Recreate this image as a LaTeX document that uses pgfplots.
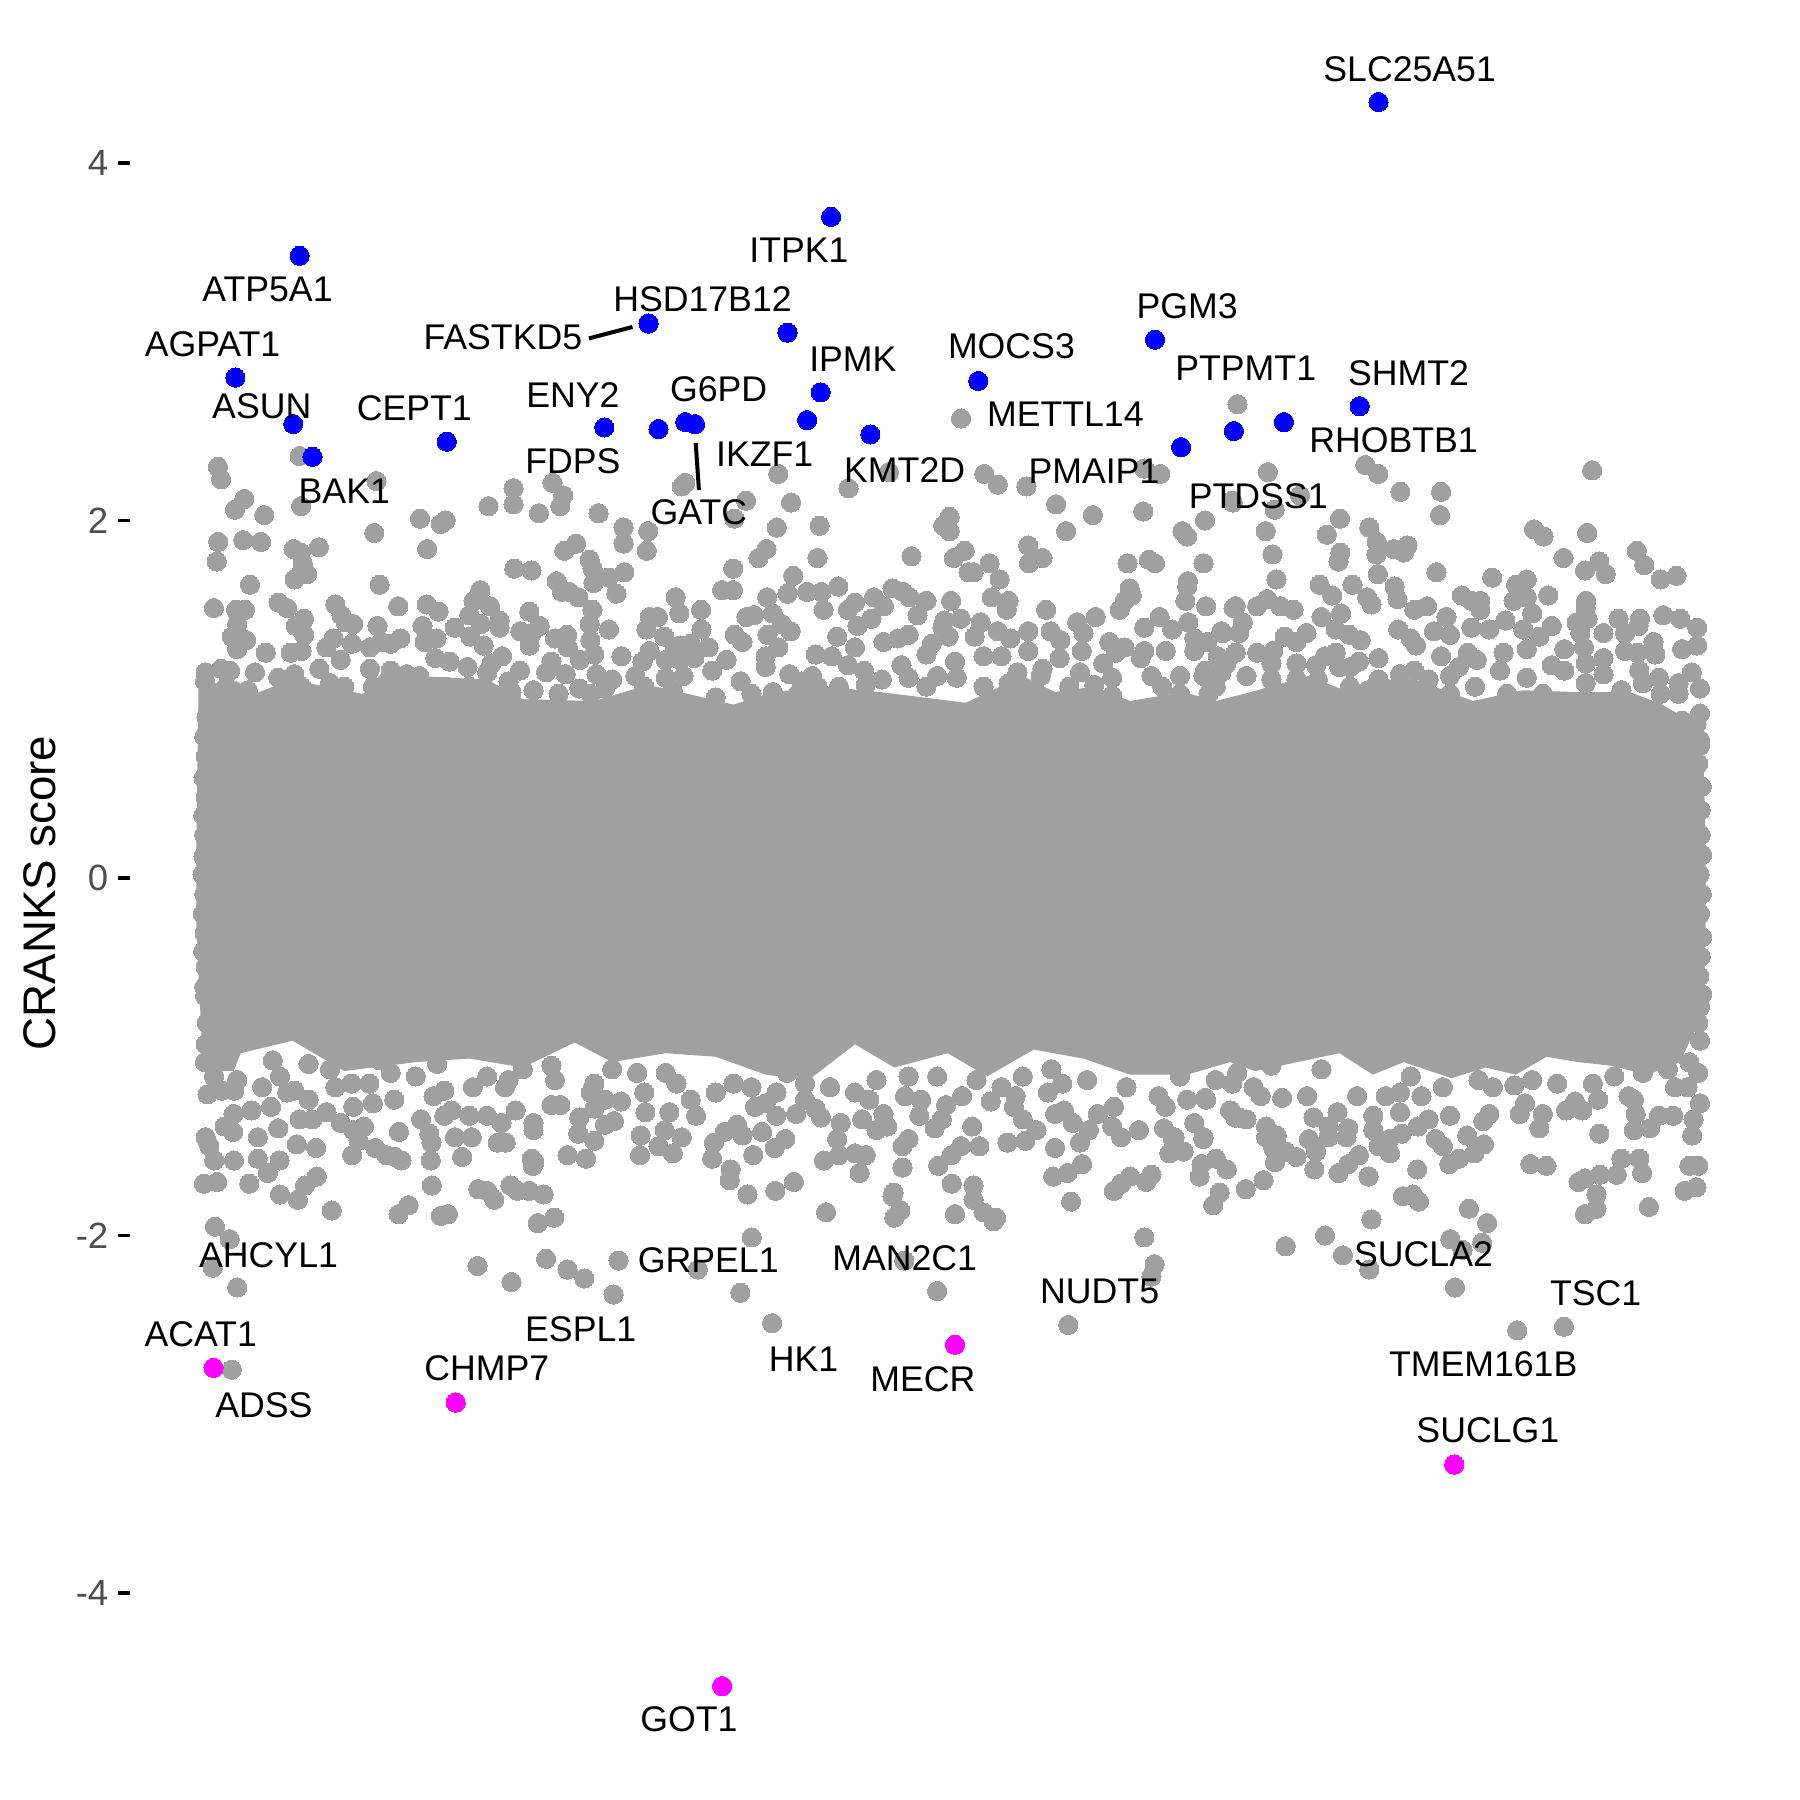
\documentclass[border=0pt]{standalone}
\usepackage{pgfplots}
\pgfplotsset{compat=1.18}
\usepackage{fontspec}
\setmainfont{Liberation Sans}
\definecolor{dotgray}{HTML}{A0A0A0}
\definecolor{ticktext}{HTML}{4D4D4D}
\definecolor{upblue}{HTML}{0000FF}
\definecolor{downpink}{HTML}{FF00FF}
\tikzset{lab/.style={font=\fontsize{10.15}{12}\selectfont,text=black,inner sep=0pt,anchor=center}}
% labels go on after the plots, so they sit over the dots
\newcommand{\genelabels}{%
\draw[black,line width=0.04cm] (axis cs:1285,3.018) -- (axis cs:1407,3.082);
\draw[black,line width=0.04cm] (axis cs:1584,2.433) -- (axis cs:1593,2.170);
\node[lab] at (axis cs:3583,4.526) {SLC25A51};
\node[lab] at (axis cs:1873,3.512) {ITPK1};
\node[lab] at (axis cs:385,3.294) {ATP5A1};
\node[lab] at (axis cs:1603,3.236) {HSD17B12};
\node[lab] at (axis cs:1044,3.024) {FASTKD5};
\node[lab] at (axis cs:231,2.986) {AGPAT1};
\node[lab] at (axis cs:2960,3.197) {PGM3};
\node[lab] at (axis cs:2468,2.973) {MOCS3};
\node[lab] at (axis cs:2024,2.902) {IPMK};
\node[lab] at (axis cs:3124,2.851) {PTPMT1};
\node[lab] at (axis cs:3580,2.825) {SHMT2};
\node[lab] at (axis cs:369,2.639) {ASUN};
\node[lab] at (axis cs:796,2.626) {CEPT1};
\node[lab] at (axis cs:1240,2.703) {ENY2};
\node[lab] at (axis cs:1648,2.735) {G6PD};
\node[lab] at (axis cs:2619,2.594) {METTL14};
\node[lab] at (axis cs:3538,2.446) {RHOBTB1};
\node[lab] at (axis cs:1777,2.369) {IKZF1};
\node[lab] at (axis cs:2169,2.279) {KMT2D};
\node[lab] at (axis cs:2699,2.273) {PMAIP1};
\node[lab] at (axis cs:1240,2.331) {FDPS};
\node[lab] at (axis cs:600,2.164) {BAK1};
\node[lab] at (axis cs:3159,2.138) {PTDSS1};
\node[lab] at (axis cs:1593,2.048) {GATC};
\node[lab] at (axis cs:388,-2.112) {AHCYL1};
\node[lab] at (axis cs:1619,-2.138) {GRPEL1};
\node[lab] at (axis cs:2169,-2.125) {MAN2C1};
\node[lab] at (axis cs:3622,-2.106) {SUCLA2};
\node[lab] at (axis cs:2715,-2.311) {NUDT5};
\node[lab] at (axis cs:4104,-2.324) {TSC1};
\node[lab] at (axis cs:1262,-2.523) {ESPL1};
\node[lab] at (axis cs:198,-2.549) {ACAT1};
\node[lab] at (axis cs:1886,-2.690) {HK1};
\node[lab] at (axis cs:3789,-2.722) {TMEM161B};
\node[lab] at (axis cs:999,-2.742) {CHMP7};
\node[lab] at (axis cs:2220,-2.806) {MECR};
\node[lab] at (axis cs:375,-2.947) {ADSS};
\node[lab] at (axis cs:3802,-3.088) {SUCLG1};
\node[lab] at (axis cs:1565,-4.706) {GOT1};
}
\begin{document}
\begin{tikzpicture}
\path[use as bounding box] (-1.3cm,0cm) rectangle (16.7cm,18cm);
\begin{axis}[
    at={(0cm,0cm)}, anchor=south west,
    scale only axis, width=16.7cm, height=18cm,
    xmin=0, xmax=4676, ymin=-5.157, ymax=4.911,
    axis x line=none, axis y line=left,
    axis line style={draw=none,-},
    xtick=\empty,
    ytick={-4,-2,0,2,4},
    yticklabels={-4,-2,0,2,4},
    tick align=outside,
    major tick length=0.12cm,
    ytick style={black,line width=0.035cm},
    yticklabel style={font=\fontsize{10.4}{12}\selectfont,text=ticktext,inner sep=0pt,xshift=-0.09cm},
    every axis y label/.style={at={(axis description cs:-0.0539,0.5039)},rotate=90,anchor=center},
    ylabel={\fontsize{13}{15}\selectfont CRANKS score},
    clip=false,
    gene/.style={only marks,mark=*,mark size=2.73pt,mark options={draw=#1,fill=#1,line width=0pt}},
    gene/.default=dotgray,
    after end axis/.code={\genelabels},
]
% dense core of the cloud, outline
\addplot[fill=dotgray,draw=none] coordinates {
 (192,1.08) (300,1.10) (350,1.03) (450,1.11) (650,1.03) (800,1.13) (1000,1.11) (1100,1.00) (1300,0.99) (1450,1.08)
 (1540,1.04) (1690,0.97) (1800,1.04) (1950,1.07) (2100,1.04) (2340,0.98) (2500,1.13) (2590,1.04) (2700,1.07) (2800,0.99)
 (2950,1.04) (3040,0.99) (3120,1.03) (3300,1.13) (3400,1.05) (3500,1.11) (3600,1.11) (3760,0.99) (3900,1.05) (4050,1.04)
 (4200,1.04) (4290,0.97) (4350,0.90) (4405,0.70)
 (4412,0.2) (4412,-0.3) (4405,-0.75) (4340,-1.03) (4250,-1.10) (4146,-1.05) (4056,-1.03) (3966,-1.00) (3880,-1.10) (3796,-1.06)
 (3700,-1.12) (3566,-1.03) (3480,-1.10) (3386,-0.98) (3150,-1.08) (3080,-1.03) (2960,-1.10) (2800,-1.10) (2670,-1.01) (2530,-0.96)
 (2400,-1.11) (2290,-0.98) (2140,-1.06) (2030,-0.93) (1900,-1.13) (1780,-1.10) (1640,-1.00) (1500,-0.98) (1350,-1.03) (1245,-0.92)
 (1100,-1.06) (950,-1.01) (800,-1.03) (600,-1.08) (455,-0.91) (310,-0.98) (290,-1.08) (205,-1.08) (186,-0.3) (186,0.2)
} -- cycle;
% upper fringe, left part
\addplot[gene] coordinates {
 (475,2.36) (246,2.30) (255,2.23) (320,2.12) (294,2.06) (376,2.03) (479,2.08) (690,2.22)
 (247,1.88) (317,1.89) (367,1.88) (243,1.77) (458,1.84) (478,1.82) (529,1.85) (484,1.76)
 (480,1.71) (496,1.70) (461,1.67) (336,1.64) (684,1.93) (812,2.01) (870,1.98) (884,2.00)
 (832,1.84) (699,1.64) (1004,2.08) (1074,2.18) (1074,2.09) (1145,2.04) (1183,2.21) (1213,2.14)
 (1205,2.08) (1312,2.04) (1382,1.96) (1382,1.87) (1451,1.94) (1447,1.83) (1216,1.83) (1249,1.87)
 (1287,1.78) (1295,1.73) (1298,1.65) (1340,1.68) (1384,1.71) (1362,1.59) (1076,1.73) (1124,1.72)
 (1195,1.66) (1210,1.60) (1230,1.60) (1255,1.57) (1555,2.21) (1545,2.19) (1528,1.57) (1538,1.48)
 (1455,1.46) (1478,1.46) (1446,1.39) (1496,1.35) (1526,1.29) (981,1.61) (962,1.55) (1008,1.52)
 (950,1.47) (982,1.42) (1035,1.44) (1035,1.40) (909,1.40) (953,1.35) (990,1.30) (1042,1.24)
 (831,1.53) (864,1.49) (819,1.41) (858,1.34) (825,1.32) (751,1.52) (693,1.41) (757,1.34)
 (730,1.31) (672,1.29) (703,1.32) (575,1.53) (592,1.47) (625,1.42) (604,1.43) (416,1.54)
 (440,1.51) (487,1.45) (464,1.41) (488,1.36) (235,1.51) (297,1.50) (322,1.50) (300,1.42)
 (285,1.35) (325,1.33) (300,1.28) (380,1.26) (570,1.34) (622,1.31) (550,1.29) (450,1.26)
 (480,1.27) (1118,1.49) (1147,1.41) (1093,1.38) (1125,1.37) (1119,1.30) (1190,1.34) (1224,1.36)
 (1226,1.29) (1180,1.21) (1295,1.50) (1287,1.42) (1289,1.33) (1341,1.39) (1300,1.25) (1260,1.22)
 (1376,1.24) (1092,1.16) (1455,1.27) (1500,1.22) (1435,1.21) (855,1.23) (895,1.21) (945,1.18)
 (1012,1.20) (1220,1.14) (1306,1.14) (1350,1.11) (1415,1.13) (1165,1.15) (1258,1.06) (1068,1.04)
 (1540,1.30) (1540,1.22) (212,1.15) (255,1.17) (350,1.15) (280,1.16) (415,1.12) (460,1.14)
 (530,1.17) (590,1.22) (672,1.17) (730,1.16) (775,1.14) (810,1.13) (1000,1.15) (1440,1.07)
 (1500,1.12) (210,1.10) (270,1.07) (330,1.05) (440,1.07) (480,1.07)
 (560,1.09) (600,1.07) (680,1.07) (750,1.07) (880,1.07) (950,1.07)
 (1130,1.05) (1200,1.03) (1290,1.03) (720,1.10) (1060,1.10) (1330,1.06) (1520,1.05)
};
% upper fringe, middle part
\addplot[gene] coordinates {
 (2327,2.57) (1815,2.26) (2125,2.27) (2012,2.18) (2392,2.26) (2430,2.20) (2510,2.19) (2840,2.29)
 (2885,2.26) (2593,2.09) (2696,2.03) (2837,2.05) (3010,2.00) (3088,2.10) (1725,2.11) (1851,2.10)
 (1692,2.01) (1811,1.96) (1931,1.97) (2295,2.02) (2277,1.97) (2295,1.94) (2515,1.86) (2621,1.94)
 (2947,1.94) (2960,1.91) (1782,1.84) (1760,1.79) (1689,1.73) (1925,1.79) (2188,1.80) (2337,1.83)
 (2307,1.79) (2407,1.76) (2348,1.71) (2362,1.71) (2435,1.67) (2555,1.79) (2517,1.76) (2793,1.76)
 (2853,1.78) (2870,1.76) (3006,1.76) (1857,1.69) (1658,1.61) (1688,1.61) (1841,1.59) (1784,1.57)
 (1896,1.60) (1936,1.60) (1983,1.63) (2135,1.62) (2165,1.60) (2182,1.57) (2230,1.55) (2299,1.55)
 (2413,1.57) (2460,1.55) (1942,1.50) (2083,1.57) (2030,1.54) (2010,1.50) (2111,1.52) (1599,1.50)
 (1800,1.48) (1726,1.46) (1747,1.47) (2076,1.45) (2205,1.47) (2280,1.44) (2326,1.45) (2455,1.50)
 (2382,1.43) (2565,1.50) (2799,1.62) (2805,1.58) (2785,1.55) (2771,1.50) (2962,1.66) (2960,1.63)
 (2955,1.55) (3013,1.52) (3090,1.51) (2652,1.43) (2704,1.46) (2883,1.46) (2963,1.43) (2578,1.38)
 (2515,1.38) (1600,1.39) (1693,1.36) (2037,1.41) (1850,1.38) (1785,1.36) (1825,1.42) (2430,1.38)
 (2292,1.35) (1980,1.35) (2150,1.34) (2180,1.36) (2275,1.40) (2840,1.40) (2918,1.39) (3060,1.37)
 (2980,1.34) (2742,1.32) (2605,1.33) (2465,1.34) (2365,1.35) (2670,1.37) (1570,1.31) (1620,1.29)
 (1715,1.32) (1815,1.29) (2030,1.29) (2110,1.32) (2245,1.31) (2785,1.29) (2665,1.27) (2900,1.27)
 (2840,1.27) (2980,1.27) (1920,1.25) (1965,1.24) (2230,1.25) (2515,1.27) (2440,1.24) (1580,1.23)
 (1670,1.22) (1780,1.24) (2603,1.23) (2725,1.20) (2760,1.26) (2830,1.23) (1910,1.13) (2010,1.19)
 (2055,1.16) (2160,1.19) (2310,1.21) (2390,1.24) (1846,1.14) (2555,1.17) (2660,1.15) (3010,1.16)
 (2940,1.13) (3070,1.20) (2750,1.12) (1630,1.16) (1550,1.13) (1780,1.18) (2105,1.11) (2180,1.12)
 (2315,1.12) (2390,1.07) (2460,1.09) (2550,1.13) (2860,1.13) (1870,1.03) (1925,1.07) (1985,1.07)
 (2060,1.08) (2230,1.07) (2630,1.07) (2750,1.02) (3020,1.03) (2940,1.03)
 (2540,1.03) (1640,1.01) (1740,1.03) (1800,1.04) (1710,1.10)
 (1880,1.10) (2260,1.13) (2485,1.15) (2700,1.08) (2890,1.07) (3040,1.07)
};
% upper fringe, right part
\addplot[gene] coordinates {
 (3101,2.65) (3186,2.27) (3459,2.31) (3495,2.26) (3557,2.16) (3671,2.16) (4094,2.28) (3086,2.11)
 (3205,2.06) (3276,2.14) (3668,2.03) (3388,2.01) (3180,1.94) (3351,1.92) (3470,1.96) (3491,1.88)
 (3577,1.86) (3539,1.84) (3567,1.82) (3490,1.81) (3389,1.82) (3384,1.77) (3199,1.81) (3931,1.95)
 (3958,1.91) (4080,1.93) (4014,1.79) (4219,1.83) (4240,1.75) (4114,1.77) (4074,1.72) (4132,1.70)
 (4286,1.67) (4330,1.69) (3658,1.71) (3814,1.68) (3494,1.70) (3210,1.67) (3423,1.64) (3331,1.64)
 (3541,1.63) (3911,1.67) (3881,1.64) (3366,1.58) (3464,1.57) (3476,1.53) (3549,1.56) (3729,1.58)
 (3756,1.55) (3781,1.55) (3971,1.58) (4077,1.55) (3874,1.55) (3911,1.57) (3096,1.52) (3156,1.52)
 (3184,1.56) (3221,1.52) (3258,1.50) (3391,1.48) (3336,1.46) (3596,1.50) (3632,1.52) (3781,1.50)
 (3686,1.46) (4293,1.47) (4341,1.45) (4388,1.40) (4076,1.51) (4168,1.45) (4228,1.45) (4081,1.45)
 (4051,1.43) (3981,1.41) (3926,1.48) (3851,1.44) (3551,1.39) (3376,1.39) (3414,1.36) (3446,1.33)
 (3586,1.34) (3651,1.38) (3601,1.30) (3116,1.43) (3056,1.38) (3294,1.37) (3233,1.35) (3266,1.32)
 (4346,1.28) (4388,1.30) (4266,1.32) (4224,1.41) (4061,1.37) (4126,1.37) (4186,1.37) (3946,1.35)
 (3901,1.39) (3756,1.40) (3696,1.36) (3806,1.39) (3496,1.23) (3441,1.21) (3671,1.24) (3016,1.32)
 (3106,1.37) (3156,1.26) (3201,1.27) (3376,1.26) (3346,1.24) (3771,1.22) (3746,1.26) (3846,1.26)
 (3911,1.28) (4016,1.28) (4071,1.29) (4186,1.27) (4271,1.25) (4221,1.26) (3721,1.18) (3981,1.19)
 (4126,1.23) (4076,1.20) (4226,1.16) (4373,1.15) (4281,1.12) (4336,1.09) (4396,1.06) (4396,0.92)
 (3911,1.12) (3766,1.07) (3836,1.16) (4016,1.16) (4126,1.14) (3596,1.16) (3556,1.14) (3496,1.11)
 (3636,1.11) (3696,1.13) (3321,1.19) (3416,1.18) (3386,1.18) (3266,1.20) (3196,1.20) (3096,1.26)
 (3046,1.24) (4336,1.03) (4286,1.03) (4176,1.05) (4236,1.09) (4076,1.09) (3956,1.03) (3856,1.03)
 (3696,1.03) (3616,1.05) (3466,1.05) (3416,1.07) (3326,1.11) (3266,1.11)
 (3196,1.11) (3126,1.13) (3056,1.15) (3006,1.13) (4346,0.88) (4386,0.86)
 (4396,0.77) (4396,0.74) (4391,0.64) (4401,0.51)
};
% band edges
\addplot[gene] coordinates {
 (214,0.90) (208,0.79) (212,0.68) (206,0.56) (212,0.45) (205,0.35) (208,0.24) (206,0.12) (203,0.02) (208,-0.09) (204,-0.20)
 (209,-0.31) (205,-0.41) (212,-0.50) (208,-0.61) (4398,0.38) (4398,0.24) (4402,0.13) (4395,0.02)
 (4401,-0.09) (4396,-0.20) (4402,-0.33) (4398,-0.44) (4394,-0.55) (4402,-0.65)
};
% lower fringe, left part
\addplot[gene] coordinates {
 (210,-0.66) (215,-0.81) (212,-0.93) (210,-1.03) (235,-1.11) (217,-1.21) (257,-1.19) (292,-1.19)
 (290,-1.32) (265,-1.39) (289,-1.42) (358,-1.45) (212,-1.45) (222,-1.50) (236,-1.58)
 (291,-1.58) (358,-1.57) (419,-1.58) (386,-1.65) (207,-1.71) (244,-1.70) (334,-1.71) (420,-1.77)
 (470,-1.80) (490,-1.72) (523,-1.67) (565,-1.86) (238,-1.95) (279,-2.02) (232,-2.18) (300,-2.29)
 (285,-2.75) (415,-1.40) (467,-1.49) (521,-1.51) (622,-1.55) (687,-1.51) (718,-1.55) (760,-1.58)
 (742,-1.56) (753,-1.42) (842,-1.58) (844,-1.48) (838,-1.43) (910,-1.45) (957,-1.45) (930,-1.56)
 (1030,-1.48) (1052,-1.48) (1125,-1.57) (1132,-1.59) (1128,-1.61) (845,-1.72) (975,-1.74) (1000,-1.75)
 (1020,-1.80) (1065,-1.72) (1085,-1.75) (1118,-1.75) (1158,-1.77) (780,-1.83) (752,-1.88) (870,-1.89)
 (890,-1.88) (1142,-1.93) (1188,-1.90) (1165,-2.13) (973,-2.17) (1225,-2.19) (1272,-2.24) (1368,-2.14)
 (1068,-2.26) (1354,-2.33) (1180,-1.27) (1205,-1.27) (1130,-1.41) (1225,-1.55) (1277,-1.57) (1300,-1.47)
 (1255,-1.43) (1258,-1.34) (1330,-1.38) (1355,-1.36) (1430,-1.44) (1428,-1.55) (1480,-1.50) (1497,-1.41)
 (1520,-1.54) (1545,-1.45) (1443,-1.31) (1510,-1.31) (1375,-1.25) (1330,-1.24) (1300,-1.29) (1290,-1.20)
 (1190,-1.13) (1300,-1.15) (1050,-1.17) (1080,-1.30) (1130,-1.37) (1040,-1.37) (1000,-1.33) (950,-1.33)
 (900,-1.30) (850,-1.22) (880,-1.33) (815,-1.35) (740,-1.24) (680,-1.26) (625,-1.28) (550,-1.31)
 (510,-1.35) (475,-1.35) (590,-1.37) (625,-1.41) (655,-1.39) (640,-1.47) (395,-1.28) (340,-1.30)
 (440,-1.20) (500,-1.24) (460,-1.19) (575,-1.17) (620,-1.15) (670,-1.15) (960,-1.17) (1000,-1.11)
 (1060,-1.13) (880,-1.19) (800,-1.11) (730,-1.09) (560,-1.07) (420,-1.11)
 (370,-1.17) (300,-1.13) (400,-1.02) (500,-1.04) (700,-1.02)
 (860,-1.04) (1100,-1.07) (1180,-1.05) (1350,-1.07) (1440,-1.20)
 (1420,-1.09) (1530,-1.15) (1500,-1.09)
};
% lower fringe, middle part
\addplot[gene] coordinates {
 (1630,-1.57) (1635,-1.48) (1665,-1.42) (1700,-1.38) (1715,-1.44) (1682,-1.63) (1679,-1.69)
 (1729,-1.77) (1807,-1.75) (1859,-1.70) (1949,-1.87) (1745,-1.55) (1770,-1.42) (1805,-1.51) (1835,-1.46)
 (1865,-1.32) (1890,-1.24) (1810,-1.33) (1750,-1.28) (1943,-1.58) (1980,-1.46) (1985,-1.55) (2030,-1.54)
 (2060,-1.55) (2043,-1.65) (2163,-1.62) (2163,-1.50) (2180,-1.46) (2135,-1.78) (2138,-1.76) (2157,-1.86)
 (2140,-1.90) (2310,-1.88) (2301,-1.71) (2362,-1.72) (2362,-1.80) (2390,-1.87) (2418,-1.92) (2425,-1.90)
 (2263,-1.61) (2300,-1.55) (2327,-1.50) (2378,-1.50) (2358,-1.39) (2457,-1.48) (2507,-1.47) (2538,-1.41)
 (2590,-1.51) (2585,-1.67) (2625,-1.65) (2666,-1.60) (2635,-1.81) (2755,-1.75) (2800,-1.67) (2775,-1.71)
 (2845,-1.70) (2860,-1.66) (2995,-1.67) (3000,-1.60)
 (1741,-2.01) (1590,-2.19) (1709,-2.32) (1798,-2.49) (2168,-2.14) (2260,-2.31) (2627,-2.50)
 (2840,-2.01) (2869,-2.16) (2860,-2.23) (2910,-1.54) (2950,-1.53) (3005,-1.46) (2920,-1.46) (2775,-1.45)
 (2750,-1.39) (2825,-1.41) (2660,-1.48) (2685,-1.41) (2640,-1.37) (2590,-1.32) (2570,-1.20) (2615,-1.30)
 (2755,-1.28) (2710,-1.32) (2895,-1.40) (2925,-1.45) (2980,-1.37) (2900,-1.28) (2960,-1.24) (3013,-1.24)
 (3080,-1.30) (3095,-1.34) (2500,-1.35) (2475,-1.28) (2410,-1.25) (2480,-1.22) (2440,-1.17) (2330,-1.22)
 (2285,-1.27) (2273,-1.35) (2253,-1.40) (2215,-1.24) (2210,-1.33) (2170,-1.22) (2120,-1.39) (2090,-1.41)
 (2050,-1.35) (2110,-1.32) (1935,-1.34) (1920,-1.29) (1990,-1.37) (2070,-1.24) (2090,-1.13) (2030,-1.20)
 (1960,-1.17) (1890,-1.15) (1780,-1.26) (1690,-1.15) (1640,-1.20) (1585,-1.33) (1570,-1.24) (1810,-1.20)
 (1740,-1.17) (1840,-1.09) (2180,-1.11) (2260,-1.11) (2370,-1.13) (2500,-1.11)
 (2580,-1.07) (2610,-1.15) (2680,-1.13) (2790,-1.17) (2880,-1.22) (2940,-1.11) (3040,-1.13) (3100,-1.09)
};
% lower fringe, right part
\addplot[gene] coordinates {
 (3011,-1.23) (3081,-1.30) (3106,-1.34) (3126,-1.35) (3006,-1.45) (3041,-1.57) (3071,-1.63) (3051,-1.76)
 (3033,-1.83) (3124,-1.74) (3174,-1.69) (3226,-1.23) (3181,-1.39) (3181,-1.45) (3211,-1.44) (3201,-1.51)
 (3236,-1.53) (3266,-1.56) (3206,-1.59) (3316,-1.63) (3321,-1.53) (3314,-1.34) (3301,-1.46) (3356,-1.45)
 (3411,-1.40) (3356,-1.39) (3381,-1.31) (3406,-1.45) (3441,-1.55) (3411,-1.60) (3384,-1.65) (3468,-1.67)
 (3476,-1.91) (3346,-2.00) (3236,-2.06) (3396,-2.11) (3470,-2.19) (3496,-1.50) (3528,-1.54) (3481,-1.41)
 (3481,-1.33) (3556,-1.31) (3526,-1.46) (3561,-1.43) (3606,-1.39) (3636,-1.35) (3656,-1.46) (3676,-1.50)
 (3694,-1.60) (3721,-1.57) (3764,-1.54) (3791,-1.49) (3744,-1.44) (3789,-1.36) (3806,-1.32) (3696,-1.33)
 (3604,-1.63) (3564,-1.78) (3592,-1.77) (3609,-1.81) (3749,-1.85) (3800,-1.93) (3697,-2.02) (3786,-2.04)
 (3731,-2.08) (3710,-2.29) (3884,-2.53) (4015,-2.51) (3921,-1.60) (3966,-1.61) (4056,-1.70) (4074,-1.68)
 (4116,-1.66) (4163,-1.66) (4176,-1.57) (4226,-1.57) (4234,-1.65) (4114,-1.43) (3946,-1.40) (3956,-1.32)
 (3891,-1.32) (3906,-1.26) (4021,-1.30) (4066,-1.30) (4046,-1.25) (4111,-1.24) (4211,-1.41) (4256,-1.40)
 (4216,-1.32) (4211,-1.24) (4321,-1.33) (4281,-1.33) (4374,-1.44) (4378,-1.35) (4396,-1.26) (4366,-1.61)
 (4391,-1.61) (4386,-1.73) (4353,-1.75) (4106,-1.77) (4106,-1.85) (4074,-1.88) (4253,-1.84) (4361,-1.17)
 (4391,-1.09) (4366,-1.03) (4396,-0.91) (4391,-0.81) (4396,-0.72) (4326,-1.17) (4156,-1.11) (4096,-1.15)
 (3996,-1.15) (3926,-1.13) (3876,-1.16) (3816,-1.17) (3776,-1.13) (3676,-1.17) (3586,-1.11) (3516,-1.22)
 (3616,-1.22) (3436,-1.22) (3296,-1.22) (3146,-1.17) (3086,-1.15) (3166,-1.22) (3556,-1.20) (4196,-1.22)
 (4306,-1.07) (4236,-1.09) (3336,-1.07) (3196,-1.05)
};
% labelled genes
\addplot[gene=upblue] coordinates {
 (3496,4.340) (1963,3.698) (475,3.480) (1452,3.101) (1841,3.050) (2870,3.011) (295,2.799) (2375,2.780)
 (1934,2.716) (3443,2.639) (457,2.539) (511,2.356) (887,2.440) (1328,2.520) (1480,2.511) (1555,2.550)
 (1582,2.539) (1896,2.561) (2073,2.481) (2943,2.410) (3091,2.500) (3231,2.550)
};
\addplot[gene=downpink] coordinates {
 (234,-2.740) (2310,-2.611) (912,-2.934) (3708,-3.281) (1658,-4.520)
};
\end{axis}
\end{tikzpicture}
\end{document}
